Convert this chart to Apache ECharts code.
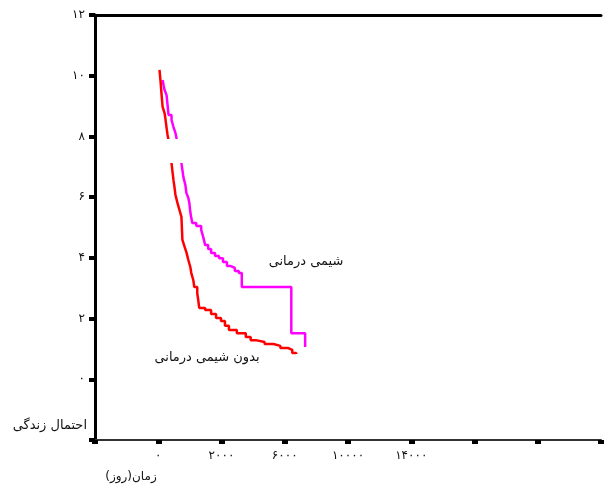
<!DOCTYPE html>
<html><head><meta charset="utf-8">
<script src="https://cdn.jsdelivr.net/npm/echarts@6/dist/echarts.min.js"></script>
<style>html,body{margin:0;padding:0;background:#fff}#c{width:604px;height:488px}</style>
</head><body><div id="c"></div>
<script>
// Time (days) and survival (axis units) for each group
var redTime = [40,75,106,138,200,232,263,294,326,357,388,420,451,482,513,545,607,670,733,764,826,889,952,1014,1045,1108,1139,1233,1265,1296,1484,1671,1828,1984,2109,2235,2485,2767,2923,3080,3362,3643,3862,4113,4238,4363];
var redSurv = [10.19,9.79,9.36,8.97,8.77,8.54,8.28,8.05,7.88,7.55,7.29,7.12,6.83,6.56,6.33,6.07,5.81,5.58,5.35,4.59,4.39,4.19,3.93,3.70,3.50,3.27,3.04,2.84,2.61,2.35,2.28,2.15,2.02,1.92,1.76,1.62,1.52,1.39,1.29,1.23,1.16,1.10,1.03,0.97,0.87,0.83];
var magTime = [138,169,200,263,294,326,420,482,545,576,607,670,733,764,795,858,889,952,983,1014,1045,1077,1202,1358,1421,1484,1578,1671,1796,1922,2047,2172,2297,2422,2548,2642,4207,4645];
var magSurv = [9.86,9.69,9.53,9.36,9.04,8.71,8.54,8.31,8.11,7.95,7.72,7.49,7.12,6.89,6.66,6.40,6.14,5.97,5.81,5.51,5.31,5.15,5.05,4.92,4.69,4.42,4.29,4.16,4.06,3.99,3.86,3.73,3.67,3.57,3.50,3.04,1.52,1.06];

var yTickValues = [0,2,4,6,8,10,12];
var yTickLabels = ['۰','۲','۴','۶','۸','۱۰','۱۲'];
var xTickValues = [0,2000,4000,6000,8000];
var xTickLabels = ['۰','۲۰۰۰','۶۰۰۰','۱۰۰۰۰','۱۴۰۰۰'];

var seriesNames = ['شیمی درمانی','بدون شیمی درمانی'];
var yName = 'احتمال زندگی';
var xName = 'زمان(روز)';

function pairs(a,b){return a.map(function(v,i){return [v,b[i]];});}
function lookup(vals,labs){return function(v){var i=vals.indexOf(v);return i<0?'':labs[i];};}

var FONT = 'DejaVu Sans';
var chart = echarts.init(document.getElementById('c'), null, {renderer:'canvas'});
chart.setOption({
  backgroundColor:'#ffffff',
  animation:false,
  grid:{left:95,right:-2,top:15,bottom:48},
  xAxis:[{
    type:'value',min:-2000,max:14000,interval:2000,position:'bottom',
    axisLine:{onZero:false,lineStyle:{color:'#333',width:2}},
    axisTick:{length:4,lineStyle:{color:'#000',width:6}},
    axisLabel:{formatter:lookup(xTickValues,xTickLabels),color:'#111',fontFamily:FONT,fontSize:12,margin:10},
    splitLine:{show:false}
  },{
    type:'value',min:-2000,max:14000,interval:2000,position:'top',
    axisLine:{onZero:false,lineStyle:{color:'#000',width:3}},
    axisTick:{show:false},axisLabel:{show:false},splitLine:{show:false}
  }],
  yAxis:{
    type:'value',min:-2,max:12,interval:2,
    axisLine:{onZero:false,lineStyle:{color:'#000',width:3}},
    axisTick:{length:6,lineStyle:{color:'#000',width:4}},
    axisLabel:{formatter:lookup(yTickValues,yTickLabels),color:'#111',fontFamily:FONT,fontSize:12,margin:10},
    splitLine:{show:false}
  },
  series:[{
    name:seriesNames[0],type:'line',step:'end',showSymbol:false,
    data:pairs(magTime,magSurv),lineStyle:{color:'#ff00ff',width:2.5},itemStyle:{color:'#ff00ff'}
  },{
    name:seriesNames[1],type:'line',step:'end',showSymbol:false,
    data:pairs(redTime,redSurv),lineStyle:{color:'#ff0000',width:2.5},itemStyle:{color:'#ff0000'}
  }],
  graphic:[
    {type:'rect',z:100,shape:{x:163,y:139,width:170,height:24},style:{fill:'#ffffff'}},
    {type:'text',z:101,x:306,y:262,style:{text:seriesNames[0],font:'13px "DejaVu Sans"',fill:'#111',align:'center',verticalAlign:'middle'}},
    {type:'text',z:101,x:207,y:358,style:{text:seriesNames[1],font:'13px "DejaVu Sans"',fill:'#111',align:'center',verticalAlign:'middle'}},
    {type:'text',z:101,x:87,y:426,style:{text:yName,font:'13px "DejaVu Sans"',fill:'#111',align:'right',verticalAlign:'middle'}},
    {type:'text',z:101,x:131,y:477,style:{text:xName,font:'12px "DejaVu Sans"',fill:'#111',align:'center',verticalAlign:'middle'}}
  ]
});
</script></body></html>
